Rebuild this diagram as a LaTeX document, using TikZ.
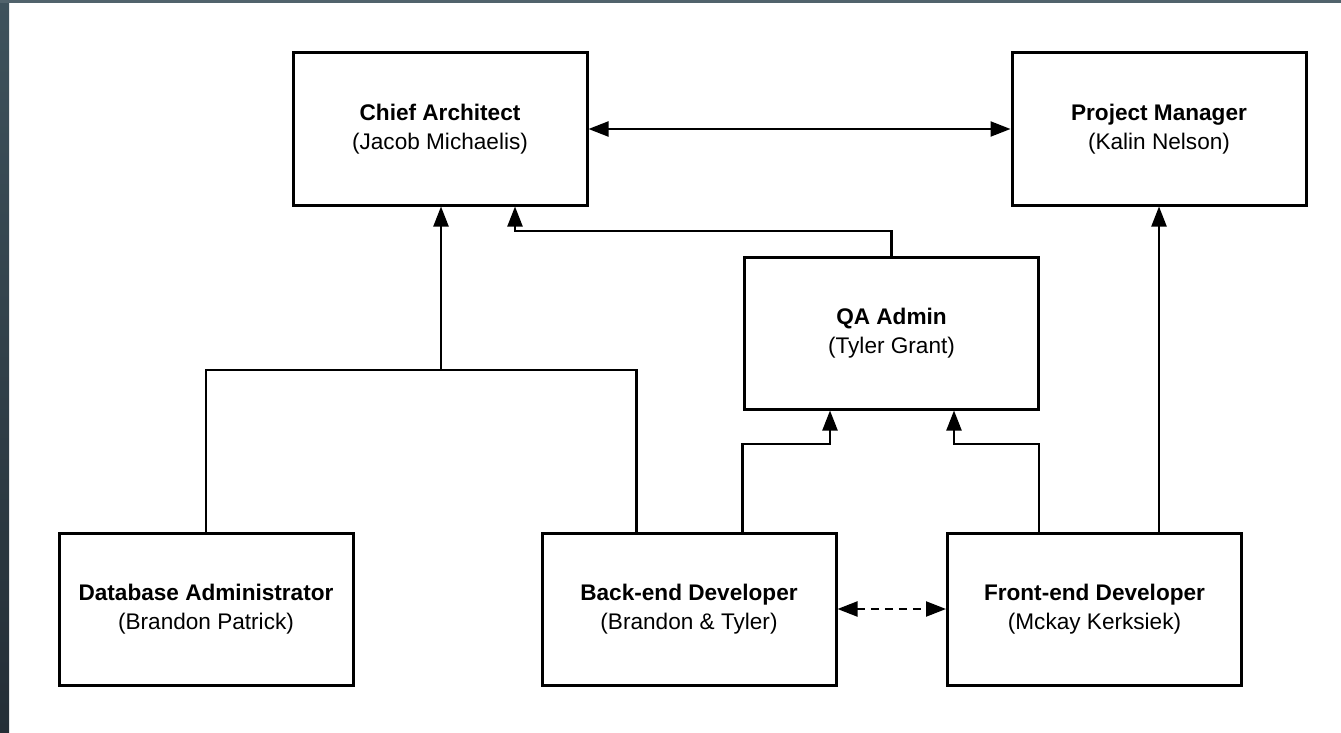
\documentclass[tikz,border=0pt]{standalone}
\usepackage{fontspec}
\setmainfont{Liberation Sans}
\usetikzlibrary{arrows.meta,calc}
\definecolor{frametop}{HTML}{3E525C}
\definecolor{framebot}{HTML}{242E36}
\begin{document}
\begin{tikzpicture}[x=1pt,y=-1pt,
  role/.style={draw=black,line width=3pt,minimum width=294pt,minimum height=152pt,
    align=center,font=\fontsize{22.6}{29.5}\selectfont,inner sep=0pt},
  link/.style={draw=black,line width=2.2pt},
  arr/.style={-{Triangle[length=20pt,width=15pt]}},
  both/.style={{Triangle[length=20pt,width=15pt]}-{Triangle[length=20pt,width=15pt]}}]
  % page and dark frame strips
  \useasboundingbox (0,0) rectangle (1341,733);
  \fill[white] (0,0) rectangle (1341,733);
  \shade[top color=frametop,bottom color=framebot] (0,0) rectangle (9,733);
  \fill[frametop!90!white] (0,0) rectangle (1341,3);

  % roles
  \node[role] (ca) at (440,129) {\textbf{Chief Architect}\\(Jacob Michaelis)};
  \node[role] (pm) at (1159,129) {\textbf{Project Manager}\\(Kalin Nelson)};
  \node[role] (qa) at (891.5,333) {\textbf{QA Admin}\\(Tyler Grant)};
  \node[role] (db) at (206,609) {\textbf{Database Administrator}\\(Brandon Patrick)};
  \node[role] (be) at (689,609) {\textbf{Back-end Developer}\\(Brandon \& Tyler)};
  \node[role] (fe) at (1094.5,609) {\textbf{Front-end Developer}\\(Mckay Kerksiek)};

  % junction points
  \coordinate (j1) at (441,370);
  \coordinate (j2) at (515,231);
  \coordinate (j3) at (830,444);
  \coordinate (j4) at (954,444);

  % connectors
  \draw[link,both] (ca.east) -- (pm.west);
  \draw[link] (db.north) |- (j1) -| ($(be.north west)+(96,0)$);
  \draw[link,arr] (j1) -- (j1 |- ca.south);
  \draw[link,arr] (qa.north) |- (j2) -- (j2 |- ca.south);
  \draw[link,arr] ($(be.north west)+(202,0)$) |- (j3) -- (j3 |- qa.south);
  \draw[link,arr] ($(fe.north west)+(93,0)$) |- (j4) -- (j4 |- qa.south);
  \draw[link,arr] (fe.north -| pm.south) -- (pm.south);
  \draw[link,both,dash pattern=on 8pt off 6pt] (be.east) -- (fe.west);
\end{tikzpicture}
\end{document}
